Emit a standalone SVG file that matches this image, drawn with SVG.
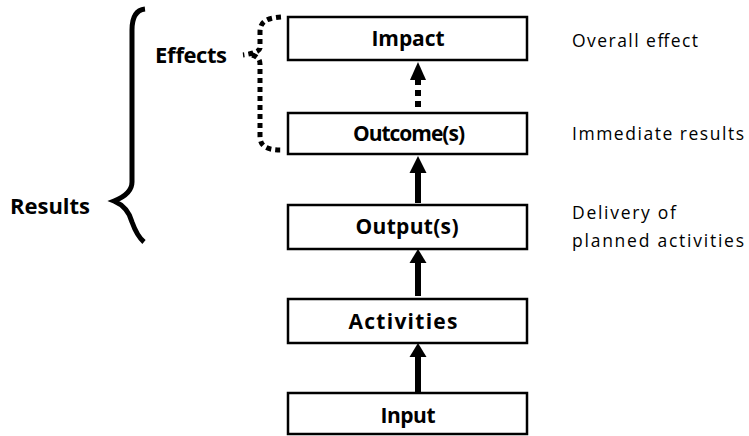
<svg xmlns="http://www.w3.org/2000/svg" width="749" height="436" viewBox="0 0 749 436">
<defs>
<style>
.box{fill:#fff;stroke:#000;stroke-width:2.5}
.lbl{font-family:"Open Sans","Noto Sans",sans-serif;font-weight:bold;font-size:21px;text-anchor:middle;fill:#000}
.side{font-family:"Open Sans","Noto Sans",sans-serif;font-size:17.5px;fill:#000}
.big{font-family:"Open Sans","Noto Sans",sans-serif;font-weight:bold;font-size:22px;fill:#000}
.shaft{stroke:#000;stroke-width:6;fill:none}
.dots{stroke:#000;stroke-width:5;fill:none;stroke-dasharray:5 4}
.head{fill:#000}
</style>
</defs>
<rect width="749" height="436" fill="#fff"/>
<g id="connectors">
<line class="shaft" x1="418" y1="203" x2="418" y2="172"/>
<path class="head" d="M409.5,173 L418,156 L426.5,173 Z"/>
<line class="shaft" x1="418" y1="296" x2="418" y2="262"/>
<path class="head" d="M409.5,263 L418,249 L426.5,263 Z"/>
<line class="shaft" x1="418" y1="392" x2="418" y2="356"/>
<path class="head" d="M409.5,357 L418,343 L426.5,357 Z"/>
<line class="dots" x1="418" y1="107" x2="418" y2="80" style="stroke-width:6;stroke-dasharray:6 5"/>
<path class="head" d="M410,80 L418,62 L426,80 Z"/>
</g>
<g id="brace-results">
<path d="M145,9 C136,10 132,18 132,30 L132,182 Q132,194 114,201 Q128,207 132,222 Q137,236 144,242" fill="none" stroke="#000" stroke-width="5"/>
</g>
<g id="brace-effects">
<path class="dots" d="M281,17 C266,18 260,22 260,32 L260,48 Q259,53 243,55"/>
<path class="dots" d="M252,55 Q260,57 260,64 L260,136 C260,146 266,150 281,150"/>
</g>
<g id="impact"><rect class="box" x="288" y="17" width="239" height="43"/><text class="lbl" x="408" y="46" textLength="73">Impact</text></g>
<g id="outcome"><rect class="box" x="288" y="113" width="239" height="41"/><text class="lbl" x="409" y="141" textLength="112">Outcome(s)</text></g>
<g id="output"><rect class="box" x="288" y="205" width="239" height="44"/><text class="lbl" x="407" y="234" textLength="103">Output(s)</text></g>
<g id="activities"><rect class="box" x="288" y="299" width="239" height="44"/><text class="lbl" x="403" y="329" textLength="109">Activities</text></g>
<g id="input"><rect class="box" x="288" y="393" width="239" height="41"/><text class="lbl" x="408" y="423" textLength="55">Input</text></g>
<g id="labels">
<text class="big" x="10" y="214" textLength="80">Results</text>
<text class="big" x="155" y="63" font-size="21" textLength="72">Effects</text>
<text class="side" x="572" y="47" textLength="126">Overall effect</text>
<text class="side" x="572" y="140" textLength="172">Immediate results</text>
<text class="side" x="572" y="219" textLength="104">Delivery of</text>
<text class="side" x="572" y="247" textLength="172">planned activities</text>
</g>
</svg>
